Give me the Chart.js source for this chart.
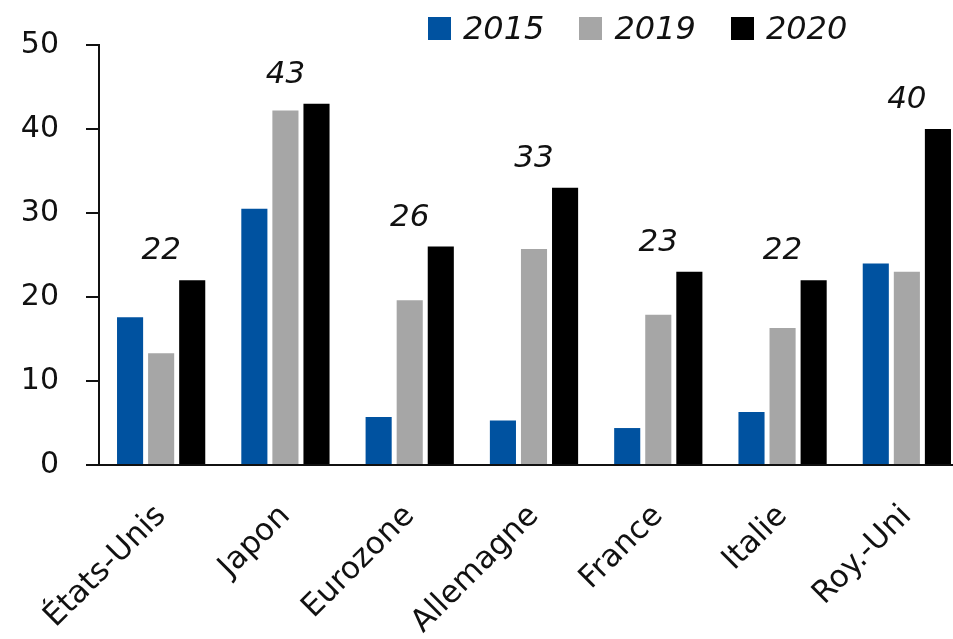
<!DOCTYPE html>
<html lang="fr">
<head>
<meta charset="utf-8">
<script src="https://cdn.jsdelivr.net/npm/chart.js@4.4.1/dist/chart.umd.min.js"></script>
<style>
    html, body { margin: 0; padding: 0; background: #fff; overflow: hidden; }
    #wrap { position: relative; width: 953px; height: 639px; overflow: hidden; }
    #legend {
        position: absolute; top: 9px; left: 428px;
        display: flex; align-items: center;
        font-family: 'DejaVu Sans', sans-serif; font-style: italic; font-size: 32px; color: #111;
    }
    #legend .item { display: flex; align-items: center; margin-right: 35px; }
    #legend .box { width: 23px; height: 23px; margin-right: 12px; }
</style>
</head>
<body>
<div id="wrap">
    <canvas id="dette-canvas" width="980" height="639"></canvas>
    <div id="legend"></div>
</div>
<script>
var pays = ['États-Unis', 'Japon', 'Eurozone', 'Allemagne', 'France', 'Italie', 'Roy.-Uni'];
var annees = ['2015', '2019', '2020'];
var valeurs2015 = [17.6, 30.5, 5.7, 5.3, 4.4, 6.3, 24.0];
var valeurs2019 = [13.3, 42.2, 19.6, 25.7, 17.9, 16.3, 23.0];
var valeurs2020 = [22, 43, 26, 33, 23, 22, 40];
var graduations = [0, 10, 20, 30, 40, 50];

var couleurs = ['rgb(0, 82, 160)', 'rgb(166, 166, 166)', 'rgb(0, 0, 0)'];
var police = "'DejaVu Sans', sans-serif";

// étiquettes en italique au-dessus de chaque groupe (valeur 2020)
var etiquettes2020 = {
    id: 'etiquettes2020',
    afterDatasetsDraw: function(chart) {
        var ctx = chart.ctx;
        var x = chart.scales.x;
        var y = chart.scales.y;
        ctx.save();
        ctx.font = 'italic 31px ' + police;
        ctx.fillStyle = '#111';
        ctx.textAlign = 'center';
        ctx.textBaseline = 'middle';
        valeurs2020.forEach(function(v, i) {
            ctx.fillText(String(Math.round(v)), x.getPixelForValue(i), y.getPixelForValue(v) - 29);
        });
        ctx.restore();
    }
};

var ctx = document.getElementById('dette-canvas').getContext('2d');

var chart = new Chart(ctx, {
    type: 'bar',
    data: {
        labels: pays,
        datasets: [
            { label: annees[0], data: valeurs2015, backgroundColor: couleurs[0] },
            { label: annees[1], data: valeurs2019, backgroundColor: couleurs[1] },
            { label: annees[2], data: valeurs2020, backgroundColor: couleurs[2] }
        ]
    },
    options: {
        responsive: false,
        animation: false,
        categoryPercentage: 0.75,
        barPercentage: 0.84,
        layout: { padding: { top: 44, right: 11, left: 0, bottom: 0 } },
        scales: {
            x: {
                grid: { display: false },
                border: { display: true, color: '#111', width: 2 },
                ticks: {
                    color: '#111',
                    maxRotation: 45,
                    minRotation: 45,
                    padding: 25,
                    font: { family: police, size: 31 }
                },
                afterFit: function(scale) { scale.height = 174; }
            },
            y: {
                min: 0,
                max: 50,
                afterBuildTicks: function(scale) {
                    scale.ticks = graduations.map(function(v) { return { value: v }; });
                },
                grid: {
                    drawOnChartArea: false,
                    drawTicks: true,
                    tickLength: 13,
                    color: '#111',
                    lineWidth: 2
                },
                border: { display: true, color: '#111', width: 2 },
                ticks: {
                    color: '#111',
                    padding: 27,
                    font: { family: police, size: 30 }
                },
                afterFit: function(scale) { scale.width = 99; }
            }
        },
        plugins: {
            legend: { display: false },
            tooltip: { enabled: false }
        }
    },
    plugins: [etiquettes2020]
});

// légende HTML, construite à partir des séries
var legende = document.getElementById('legend');
chart.data.datasets.forEach(function(ds) {
    var item = document.createElement('div');
    item.className = 'item';
    var box = document.createElement('span');
    box.className = 'box';
    box.style.background = ds.backgroundColor;
    var txt = document.createElement('span');
    txt.textContent = ds.label;
    item.appendChild(box);
    item.appendChild(txt);
    legende.appendChild(item);
});
</script>
</body>
</html>
